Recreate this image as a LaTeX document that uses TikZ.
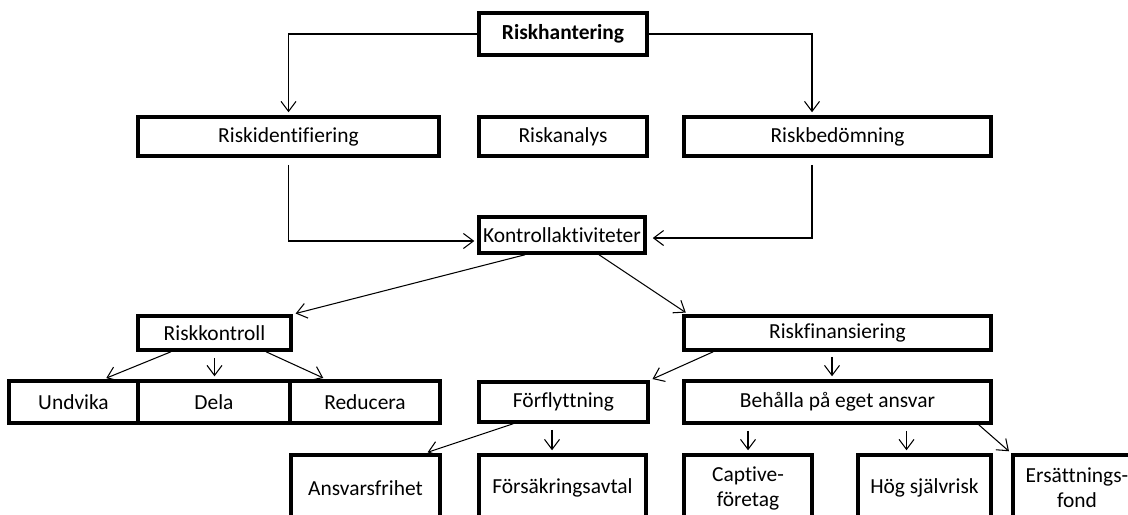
\documentclass[tikz,border=0pt]{standalone}
\usepackage{fontspec}
\setmainfont{Carlito}[Ligatures=NoCommon]
\usetikzlibrary{arrows.meta}
\begin{document}
\begin{tikzpicture}[x=0.02cm,y=-0.02cm,
  box/.style={draw,line width=2pt,inner sep=0pt,align=center,font=\fontsize{12.2}{14.2}\selectfont},
  conn/.style={line width=0.6pt,-{Straight Barb[length=0.2cm,width=0.3cm]},shorten >=0.06cm}]
\clip (0,0) rectangle (1128,514);
% upper part
\node[box,font=\fontsize{12.2}{14.2}\selectfont\bfseries,minimum width=3.36cm,minimum height=0.84cm] (hant) at (563,34) {Riskhantering};
\node[box,minimum width=6.02cm,minimum height=0.78cm] (ident) at (288.5,136.5) {Riskidentifiering};
\node[box,minimum width=3.36cm,minimum height=0.78cm] (anal) at (563,136.5) {Riskanalys};
\node[box,minimum width=6.14cm,minimum height=0.78cm] (bed) at (837.5,136.5) {Riskbedömning};
\node[box,minimum width=3.32cm,minimum height=0.72cm] (kont) at (562,235) {Kontrollaktiviteter};
\node[box,minimum width=3.06cm,minimum height=0.68cm] (rkon) at (214.5,333) {Riskkontroll};
\node[box,minimum width=6.14cm,minimum height=0.68cm] (rfin) at (837.5,333) {Riskfinansiering};
% third row
\node[box,minimum width=2.58cm,minimum height=0.84cm] (undv) at (73.5,402) {Undvika};
\node[box,minimum width=3.04cm,minimum height=0.84cm] (dela) at (214,402) {Dela};
\node[box,minimum width=3.0cm,minimum height=0.84cm] (red) at (365,402) {Reducera};
\node[box,minimum width=3.38cm,minimum height=0.8cm] (forf) at (563.5,402) {Förflyttning};
\node[box,minimum width=6.14cm,minimum height=0.84cm] (beh) at (837.5,402) {Behålla på eget ansvar};
% bottom row, cut by the edge
\node[box,minimum width=2.98cm,minimum height=1.32cm] (ansv) at (365.5,488) {Ansvarsfrihet};
\node[box,minimum width=3.34cm,minimum height=1.32cm] (fors) at (562.5,488) {Försäkringsavtal};
\node[box,minimum width=2.56cm,minimum height=1.32cm] (capt) at (748,488) {Captive-\\företag};
\node[box,minimum width=2.66cm,minimum height=1.32cm] (hog) at (924.5,488) {Hög självrisk};
\node[box,minimum width=2.56cm,minimum height=1.32cm] (ers) at (1077,488) {Ersättnings-\\fond};
% connectors
\draw[conn] (hant.west) -| (ident.north);
\draw[conn] (hant.east) -| ([xshift=-0.51cm]bed.north);
\draw[conn] ([yshift=-0.14cm]ident.south) |- ([yshift=-0.12cm]kont.west);
\draw[conn,shorten >=0.12cm] ([xshift=-0.51cm,yshift=-0.14cm]bed.south) |- ([yshift=-0.06cm]kont.east);
\draw[conn] ([xshift=-0.74cm]kont.south) -- (rkon.north east);
\draw[conn] ([xshift=0.74cm]kont.south) -- ([xshift=0.12cm]rfin.north west);
\draw[conn] ([xshift=-0.87cm]rkon.south) -- ([xshift=0.6cm]undv.north);
\draw[conn,shorten <=0.12cm] (rkon.south) -- (rkon.south |- dela.north);
\draw[conn] ([xshift=1.03cm]rkon.south) -- ([xshift=-0.78cm]red.north);
\draw[conn] ([xshift=0.62cm]rfin.south west) -- (forf.north east);
\draw[conn,shorten <=0.1cm] ([xshift=-0.11cm]rfin.south) -- ([xshift=-0.11cm]rfin.south |- beh.north);
\draw[conn] ([xshift=0.72cm]forf.south west) -- ([xshift=-0.34cm]ansv.north east);
\draw[conn,shorten <=0.12cm] ([xshift=-0.23cm]forf.south) -- ([xshift=-0.23cm]forf.south |- fors.north);
\draw[conn,shorten <=0.12cm] (capt.north |- beh.south) -- (capt.north);
\draw[conn,shorten <=0.12cm] ([xshift=-0.36cm]hog.north |- beh.south) -- ([xshift=-0.36cm]hog.north);
\draw[conn] ([xshift=-0.28cm]beh.south east) -- (ers.north west);
\end{tikzpicture}
\end{document}
